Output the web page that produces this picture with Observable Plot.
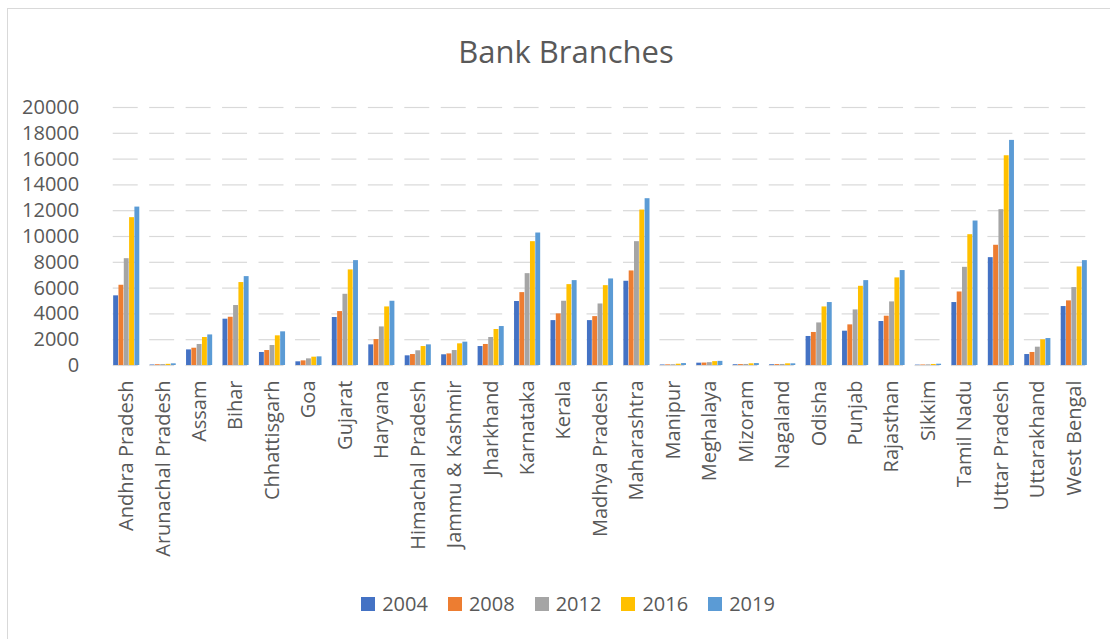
<!DOCTYPE html>
<html>
<head>
<meta charset="utf-8">
<script src="https://cdn.jsdelivr.net/npm/d3@7"></script>
<script src="https://cdn.jsdelivr.net/npm/@observablehq/plot@0.6"></script>
<style>
  html, body { margin: 0; padding: 0; background: #fff; overflow: hidden; }
  body { width: 1110px; height: 639px; position: relative; font-family: "Open Sans", sans-serif; color: #595959; }
  #frame { position: absolute; left: 7px; top: 8px; width: 1130px; height: 650px; border-left: 1px solid #d9d9d9; border-top: 1px solid #d9d9d9; box-sizing: border-box; }
  #title { position: absolute; left: 7px; width: 1118px; top: 30px; text-align: center; font-size: 31px; line-height: 42px; color: #595959; }
  #chart { position: absolute; left: 0; top: 90px; }
  #legend { position: absolute; left: 7px; width: 1122px; top: 590px; display: flex; justify-content: center; align-items: center; font-size: 20px; color: #595959; }
  .item { display: flex; align-items: center; margin: 0 10px; }
  .sw { width: 14px; height: 14px; margin-right: 7px; }
</style>
</head>
<body>
<div id="frame"></div>
<div id="title">Bank Branches</div>
<div id="chart"></div>
<div id="legend"></div>
<script>
const states = ["Andhra Pradesh","Arunachal Pradesh","Assam","Bihar","Chhattisgarh","Goa","Gujarat","Haryana","Himachal Pradesh","Jammu & Kashmir","Jharkhand","Karnataka","Kerala","Madhya Pradesh","Maharashtra","Manipur","Meghalaya","Mizoram","Nagaland","Odisha","Punjab","Rajasthan","Sikkim","Tamil Nadu","Uttar Pradesh","Uttarakhand","West Bengal"];
const years = ["2004","2008","2012","2016","2019"];
const colors = ["#4472C4","#ED7D31","#A5A5A5","#FFC000","#5B9BD5"];
const v2004 = [5400,40,1210,3590,1010,285,3720,1600,750,830,1470,4960,3480,3480,6530,40,180,60,60,2250,2660,3410,30,4880,8360,850,4570];
const v2008 = [6220,60,1340,3740,1160,360,4180,2010,850,900,1630,5650,4000,3790,7330,50,190,70,70,2560,3150,3820,40,5700,9320,1010,5010];
const v2012 = [8280,70,1630,4650,1550,515,5520,2990,1140,1160,2170,7120,4980,4770,9600,60,220,80,80,3300,4310,4930,50,7610,12080,1420,6040];
const v2016 = [11460,90,2170,6430,2300,645,7410,4540,1470,1680,2790,9600,6270,6190,12050,100,300,130,130,4540,6140,6790,80,10140,16260,1990,7640];
const v2019 = [12280,130,2370,6890,2610,670,8130,4980,1600,1810,3020,10270,6580,6710,12930,150,320,150,130,4880,6580,7360,100,11200,17450,2090,8130];
const yTicks = [0,2000,4000,6000,8000,10000,12000,14000,16000,18000,20000];

const series = [v2004, v2008, v2012, v2016, v2019];
const data = [];
states.forEach((s, i) => years.forEach((y, j) => data.push({state: s, year: y, value: series[j][i]})));

const plot = Plot.plot({
  width: 1110,
  height: 500,
  marginLeft: 108,
  marginRight: 18,
  marginTop: 17,
  marginBottom: 225,
  style: {fontFamily: "Open Sans, sans-serif", fontSize: "20px", color: "#595959", background: "transparent"},
  fx: {domain: states, paddingInner: 0.26, paddingOuter: 0.13, round: false, label: null},
  x: {domain: years, padding: 0.08, round: false, axis: null},
  y: {domain: [0, 20000], label: null},
  color: {domain: years, range: colors},
  marks: [
    Plot.ruleY(yTicks, {stroke: "#d9d9d9", strokeWidth: 1.2, insetRight: 2}),
    Plot.axisY(yTicks, {tickSize: 0, tickPadding: 34, label: null, fontSize: 20, fill: "#595959", tickFormat: d => String(d)}),
    Plot.axisFx({anchor: "bottom", tickSize: 0, tickRotate: -90, tickPadding: 15, label: null, fontSize: 20, fill: "#595959"}),
    Plot.barY(data, {fx: "state", x: "year", y: "value", fill: "year"})
  ]
});
document.getElementById("chart").appendChild(plot);

const legend = document.getElementById("legend");
years.forEach((y, j) => {
  const it = document.createElement("div");
  it.className = "item";
  const sw = document.createElement("div");
  sw.className = "sw";
  sw.style.background = colors[j];
  const t = document.createElement("span");
  t.textContent = y;
  it.appendChild(sw); it.appendChild(t);
  legend.appendChild(it);
});
</script>
</body>
</html>
